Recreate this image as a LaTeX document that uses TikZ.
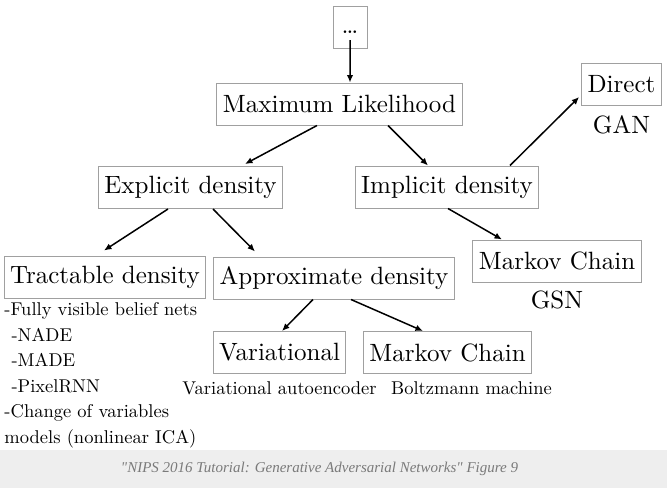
\documentclass[tikz,border=0pt]{standalone}
\usepackage{fontspec}
\newfontfamily\captionfont{Liberation Serif}
\newfontfamily\notefont{lmroman10-regular}[Extension=.otf]
\usepackage{tikz}
\usetikzlibrary{positioning}
\usetikzlibrary {arrows.meta}
\definecolor{boxgray}{HTML}{A0A0A0}
\definecolor{bandgray}{HTML}{EEEEEE}
\definecolor{captiongray}{HTML}{7A7A7A}
\tikzset{taxbox/.style={rectangle,draw=boxgray,line width=0.4pt,fill=white,
inner xsep=2.4pt,minimum height=16.8pt,font=\fontsize{10}{12}\selectfont}}
\tikzset{taxname/.style={rectangle,draw=none,inner sep=0pt,
font=\fontsize{10}{12}\selectfont}}
\tikzset{taxnote/.style={rectangle,draw=none,inner sep=0pt,
font=\notefont\fontsize{7.4}{10.2}\selectfont}}
\tikzset{taxarrow/.style={line width=0.6pt,-{Latex[length=3pt,width=2.6pt]}}}

\begin{document}
\begin{tikzpicture}[x=0.4pt,y=-0.4pt]

        \fill[white] (0,0) rectangle (667,450);
        \fill[bandgray] (0,450) rectangle (667,488);
        \useasboundingbox (0,0) rectangle (667,488);

        \node[taxbox,minimum width=13.6pt,text height=7pt,text depth=2.2pt] (dots) at (350, 27) {\dots};
        \node[taxbox] (maxlik) at (339.5, 104) {Maximum Likelihood};

        \node[taxbox] (explicit) at (190.5, 187.5) {Explicit density};
        \node[taxbox] (implicit) at (447, 187) {Implicit density};

        \node[taxbox] (tractable) at (105, 277) {Tractable density};
        \node[taxbox] (approx) at (334, 278) {Approximate density};

        \node[taxbox] (variational) at (279.5, 352.5) {Variational};
        \node[taxbox] (markovlow) at (447.5, 352.5) {Markov Chain};

        \node[taxbox] (markovhigh) at (557, 261) {Markov Chain};
        \node[taxbox] (direct) at (621.5, 84.5) {Direct};

        % models under the boxes
        \node[taxname] (gan) [below=3.6pt of direct] {GAN};
        \node[taxname] (gsn) [below=3pt of markovhigh] {GSN};
        \node[taxnote] (vae) [below=3pt of variational] {Variational autoencoder};
        \node[taxnote] (boltz) [below=3pt of markovlow, xshift=9.6pt] {Boltzmann machine};

        \node[taxnote, anchor=north west, align=left] (tractlist) at (4, 302)
            {-Fully visible belief nets\\
             \hspace{2.8pt}-NADE\\
             \hspace{2.8pt}-MADE\\
             \hspace{2.8pt}-PixelRNN\\
             -Change of variables\\
             models (nonlinear ICA)};

        \draw [taxarrow] ([yshift=-5.2pt]dots.center) -- ([xshift=4.2pt]maxlik.north);

        \draw [taxarrow] ([xshift=-9pt]maxlik.south) -- ([xshift=21.8pt,yshift=0.8pt]explicit.north);
        \draw [taxarrow] ([xshift=19.4pt]maxlik.south) -- ([xshift=-7.6pt]implicit.north);

        \draw [taxarrow] ([xshift=-9pt]explicit.south) -- ([xshift=-0.4pt,yshift=2pt]tractable.north);
        \draw [taxarrow] ([xshift=9pt]explicit.south) -- ([xshift=-31.6pt,yshift=2pt]approx.north);

        \draw [taxarrow] ([xshift=25.2pt]implicit.north) -- ([xshift=-0.8pt,yshift=-5pt]direct.west);
        \draw [taxarrow] ([xshift=0.4pt]implicit.south) -- ([xshift=-22pt]markovhigh.north);

        \draw [taxarrow] ([xshift=-8.4pt]approx.south) -- ([xshift=1pt]variational.north);
        \draw [taxarrow] ([xshift=6.8pt]approx.south) -- ([xshift=-9.8pt]markovlow.north);

        \node[font=\captionfont\fontsize{6}{7.5}\selectfont\itshape, text=captiongray] (caption) at (319.5, 469)
            {\textquotedbl NIPS 2016 Tutorial: Generative Adversarial Networks\textquotedbl{} Figure 9};

\end{tikzpicture}
\end{document}
